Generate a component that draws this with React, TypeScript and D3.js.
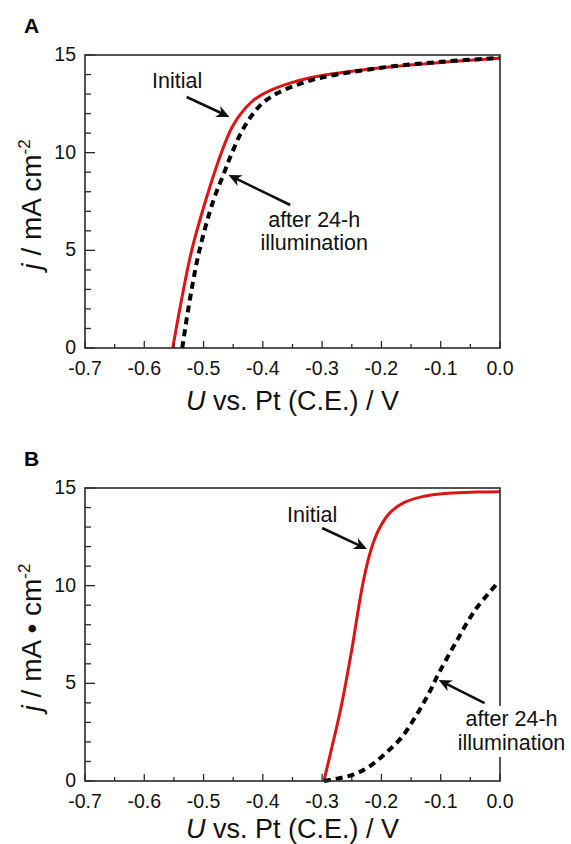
import React from "react";
import * as d3 from "d3";

// panel A: current density vs voltage
const uInitA = [-0.552, -0.537, -0.52, -0.497, -0.47, -0.452, -0.437, -0.415, -0.39, -0.35, -0.3, -0.2, -0.1, 0];
const jInitA = [0, 2.5, 5.0, 7.5, 10.0, 11.3, 12.0, 12.7, 13.15, 13.6, 13.95, 14.35, 14.62, 14.83];
const uAfterA = [-0.536, -0.523, -0.507, -0.484, -0.465, -0.452, -0.437, -0.42, -0.4, -0.375, -0.34, -0.3, -0.2, -0.1, 0];
const jAfterA = [0, 2.5, 5.0, 7.5, 9.0, 10.0, 11.0, 11.85, 12.55, 13.05, 13.5, 13.85, 14.35, 14.65, 14.85];

// panel B
const uInitB = [-0.297, -0.283, -0.27, -0.259, -0.249, -0.24, -0.23, -0.218, -0.204, -0.185, -0.162, -0.131, -0.087, -0.04, 0];
const jInitB = [0, 1.8, 3.5, 5.2, 6.9, 8.6, 10.3, 11.8, 12.9, 13.75, 14.25, 14.56, 14.73, 14.79, 14.81];
const uAfterB = [-0.297, -0.249, -0.221, -0.193, -0.165, -0.1426, -0.12, -0.1034, -0.0753, -0.0417, -0.005];
const jAfterB = [0, 0.31, 0.73, 1.42, 2.27, 3.29, 4.49, 5.51, 7.05, 8.76, 10.1];

const xTickLabels = ["-0.7", "-0.6", "-0.5", "-0.4", "-0.3", "-0.2", "-0.1", "0.0"];
const yTickLabels = ["0", "5", "10", "15"];

const FONT = "'Liberation Sans', Arial, Helvetica, sans-serif";
const W = 571, H = 844;
const left = 85, right = 500, plotH = 293;

type Pt = { u: number; j: number };
const zip = (u: number[], j: number[]): Pt[] => u.map((v, i) => ({ u: v, j: j[i] }));

type Note = { text: string[]; tx: number; ty: number[]; from: [number, number]; to: [number, number]; bg?: boolean };

function Arrow({ x1, y1, x2, y2 }: { x1: number; y1: number; x2: number; y2: number }) {
  const a = Math.atan2(y2 - y1, x2 - x1);
  const L = 13, Wd = 6;
  const bx = x2 - L * Math.cos(a), by = y2 - L * Math.sin(a);
  const nx = -Math.sin(a), ny = Math.cos(a);
  const head = `M${x2},${y2} L${bx + nx * Wd},${by + ny * Wd} L${x2 - (L * 0.7) * Math.cos(a)},${y2 - (L * 0.7) * Math.sin(a)} L${bx - nx * Wd},${by - ny * Wd} Z`;
  return (
    <g>
      <line x1={x1} y1={y1} x2={x2 - 8 * Math.cos(a)} y2={y2 - 8 * Math.sin(a)} stroke="#111" strokeWidth={2.6} />
      <path d={head} fill="#111" />
    </g>
  );
}

function Panel({ top, letter, init, after, notes, dot, tickDy, titleDy }: {
  top: number; letter: string; init: Pt[]; after: Pt[]; notes: Note[]; dot: boolean; tickDy: number; titleDy: number;
}) {
  const bottom = top + plotH;
  const x = d3.scaleLinear().domain([-0.7, 0]).range([left, right]);
  const y = d3.scaleLinear().domain([0, 15]).range([bottom, top]);
  const line = d3.line<Pt>().x(d => x(d.u)).y(d => y(d.j)).curve(d3.curveCatmullRom.alpha(0.5));
  const xMajor = x.ticks(7);
  const xMinor = x.ticks(14).filter(t => !xMajor.some(m => Math.abs(m - t) < 1e-9));
  const yMajor = y.ticks(3);
  const yMinor = y.ticks(15).filter(t => t % 5 !== 0);
  const axisColor = "#2a2a2a";

  return (
    <g fontFamily={FONT}>
      <text x={24} y={top - 22} fontSize={21} fontWeight="bold">{letter}</text>
      {/* curves */}
      <path d={line(init) || ""} fill="none" stroke="#dc1414" strokeWidth={3} />
      <path d={line(after) || ""} fill="none" stroke="#000" strokeWidth={4} strokeDasharray="7,5" />
      {/* frame */}
      <rect x={left} y={top} width={right - left} height={plotH} fill="none" stroke={axisColor} strokeWidth={1.6} />
      {xMajor.map(t => <line key={"xM" + t} x1={x(t)} x2={x(t)} y1={bottom} y2={bottom - 7} stroke={axisColor} strokeWidth={1.3} />)}
      {xMinor.map(t => <line key={"xm" + t} x1={x(t)} x2={x(t)} y1={bottom} y2={bottom - 4} stroke={axisColor} strokeWidth={1.3} />)}
      {yMajor.map(t => <line key={"yM" + t} x1={left} x2={left + 10} y1={y(t)} y2={y(t)} stroke={axisColor} strokeWidth={1.3} />)}
      {yMinor.map(t => <line key={"ym" + t} x1={left} x2={left + 6} y1={y(t)} y2={y(t)} stroke={axisColor} strokeWidth={1.3} />)}
      {xMajor.map((t, i) => (
        <text key={"xl" + t} x={x(t)} y={bottom + tickDy} fontSize={19.5} textAnchor="middle" fill="#111">{xTickLabels[i]}</text>
      ))}
      {yMajor.map((t, i) => (
        <text key={"yl" + t} x={left - 9} y={y(t) + 6} fontSize={19.5} textAnchor="end" fill="#111">{yTickLabels[i]}</text>
      ))}
      {/* axis titles */}
      <text x={(left + right) / 2} y={bottom + titleDy} fontSize={27} textAnchor="middle" fill="#111">
        <tspan fontStyle="italic">U</tspan> vs. Pt (C.E.) / V
      </text>
      <text transform={`translate(41,${(top + bottom) / 2 + 3}) rotate(-90)`} fontSize={28} textAnchor="middle" fill="#111">
        <tspan fontStyle="italic">j</tspan>{dot ? " / mA \u2022 cm" : " / mA cm"}<tspan dy={-11} fontSize={17}>-2</tspan>
      </text>
      {/* annotations */}
      {notes.map((n, i) => (
        <g key={"n" + i}>
          <Arrow x1={x(n.from[0])} y1={y(n.from[1])} x2={x(n.to[0])} y2={y(n.to[1])} />
          {n.bg && <rect x={x(n.tx) - 58} y={y(n.ty[0]) - 20} width={116} height={y(n.ty[1]) - y(n.ty[0]) + 27} fill="#fff" />}
          {n.text.map((s, k) => (
            <text key={k} x={x(n.tx)} y={y(n.ty[k])} fontSize={21.5} textAnchor="middle" fill="#111">{s}</text>
          ))}
        </g>
      ))}
    </g>
  );
}

const notesA: Note[] = [
  { text: ["Initial"], tx: -0.5445, ty: [13.31], from: [-0.5286, 12.85], to: [-0.4563, 11.83] },
  { text: ["after 24-h", "illumination"], tx: -0.3134, ty: [6.2, 5.02], from: [-0.3538, 7.32], to: [-0.458, 8.86] },
];
const notesB: Note[] = [
  { text: ["Initial"], tx: -0.3168, ty: [13.28], from: [-0.3, 12.95], to: [-0.2244, 11.88] },
  { text: ["after 24-h", "illumination"], tx: 0.0195, ty: [2.82, 1.59], from: [-0.026, 3.99], to: [-0.1034, 5.17], bg: true },
];

export default function App() {
  return (
    <svg width={W} height={H} style={{ position: "absolute", left: 0, top: 0, background: "#fff" }}>
      <rect width={W} height={H} fill="#fff" />
      <Panel top={55} letter="A" init={zip(uInitA, jInitA)} after={zip(uAfterA, jAfterA)} notes={notesA} dot={false} tickDy={27} titleDy={62} />
      <Panel top={488} letter="B" init={zip(uInitB, jInitB)} after={zip(uAfterB, jAfterB)} notes={notesB} dot={true} tickDy={27} titleDy={57} />
    </svg>
  );
}
